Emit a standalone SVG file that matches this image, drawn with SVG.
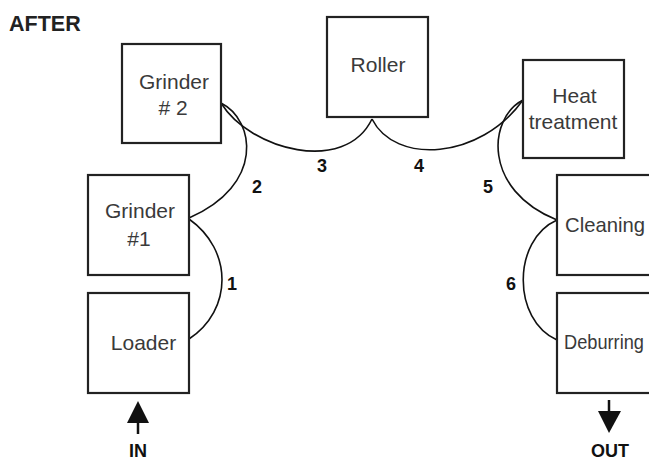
<svg xmlns="http://www.w3.org/2000/svg" width="649" height="460" viewBox="0 0 649 460">
<defs>
<style>
.box{fill:#fff;stroke:#222;stroke-width:2.2}
.lbl{font-family:"Liberation Sans",Arial,sans-serif;font-size:21px;fill:#3a3a3a;text-anchor:middle}
.num{font-family:"Liberation Sans",Arial,sans-serif;font-size:18px;font-weight:bold;fill:#111;text-anchor:middle}
.con{fill:none;stroke:#111;stroke-width:1.6}
</style>
</defs>
<rect width="649" height="460" fill="#fff"/>
<text x="9" y="31" style="font-family:'Liberation Sans',Arial,sans-serif;font-size:21.5px;font-weight:bold;fill:#222">AFTER</text>
<g id="connectors">
<path class="con" d="M189,219 C233,250 233,310 189,339"/>
<path class="con" d="M221,103 C255,120 265,185 189,218"/>
<path class="con" d="M221,103 C250,150 345,175 372,119"/>
<path class="con" d="M372,119 C395,165 480,160 523,100"/>
<path class="con" d="M523,100 C488,118 482,190 557,220"/>
<path class="con" d="M557,220 C512,240 512,320 557,340"/>
<path d="M138,434 V415" stroke="#111" stroke-width="2.5"/>
<path d="M138,401 L149,423 H127 Z" fill="#111"/>
<path d="M609,400 V418" stroke="#111" stroke-width="2.5"/>
<path d="M609,433 L598,411 H621 Z" fill="#111"/>
</g>
<g id="labels">
<text class="num" x="232" y="290">1</text>
<text class="num" x="257" y="193">2</text>
<text class="num" x="322" y="172">3</text>
<text class="num" x="419" y="172">4</text>
<text class="num" x="488" y="193">5</text>
<text class="num" x="511" y="290">6</text>
<text class="num" x="138" y="457">IN</text>
<text class="num" x="610" y="457">OUT</text>
</g>
<g id="grinder2">
<rect class="box" x="122" y="44" width="99" height="99"/>
<text class="lbl" x="174" y="89">Grinder</text>
<text class="lbl" x="173" y="115"># 2</text>
</g>
<g id="grinder1">
<rect class="box" x="88" y="175" width="101" height="100"/>
<text class="lbl" x="140" y="218">Grinder</text>
<text class="lbl" x="139" y="246">#1</text>
</g>
<g id="loader">
<rect class="box" x="88" y="293" width="101" height="100"/>
<text class="lbl" x="143.5" y="350">Loader</text>
</g>
<g id="roller">
<rect class="box" x="327" y="17" width="101" height="100"/>
<text class="lbl" x="378" y="72">Roller</text>
</g>
<g id="heat">
<rect class="box" x="523" y="60" width="101" height="98"/>
<text class="lbl" x="574.5" y="103">Heat</text>
<text class="lbl" x="573" y="129">treatment</text>
</g>
<g id="cleaning">
<rect class="box" x="557" y="175" width="101" height="100"/>
<text class="lbl" x="565" y="232" style="text-anchor:start" textLength="80" lengthAdjust="spacingAndGlyphs">Cleaning</text>
</g>
<g id="deburring">
<rect class="box" x="557" y="293" width="101" height="100"/>
<text class="lbl" x="564" y="349" style="text-anchor:start" textLength="80" lengthAdjust="spacingAndGlyphs">Deburring</text>
</g>
</svg>
